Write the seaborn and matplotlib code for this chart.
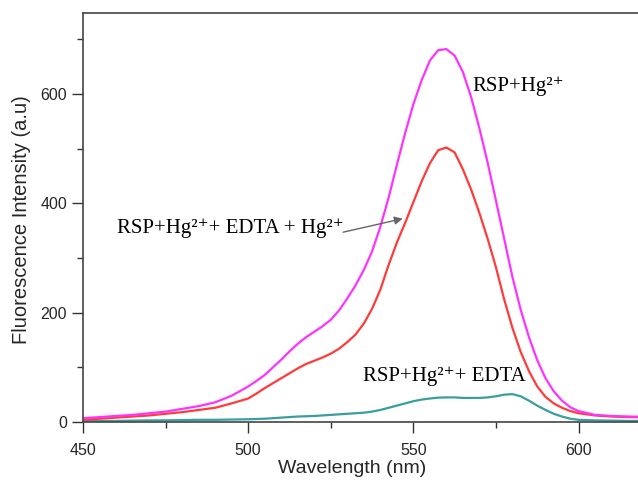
import numpy as np
import pandas as pd
import matplotlib
matplotlib.use("Agg")
import matplotlib.pyplot as plt
import seaborn as sns
from matplotlib.ticker import MultipleLocator

wavelength = [450, 455, 460, 465, 470, 475, 480, 485, 490, 495,
              500, 502.5, 505, 507.5, 510, 512.5, 515, 517.5, 520, 522.5,
              525, 527.5, 530, 532.5, 535, 537.5, 540, 542.5, 545, 547.5,
              550, 552.5, 555, 557.5, 560, 562.5, 565, 567.5, 570, 572.5,
              575, 577.5, 580, 582.5, 585, 587.5, 590, 592.5, 595, 597.5,
              600, 605, 610, 615, 620]
rsp_hg = [7, 9, 11, 13, 16, 19, 24, 29, 36, 48,
          65, 75, 86, 100, 114, 129, 143, 155, 165, 175,
          187, 204, 226, 250, 278, 312, 357, 410, 470, 528,
          581, 625, 661, 680, 682, 670, 640, 594, 537, 474,
          405, 335, 265, 205, 155, 113, 80, 56, 39, 27,
          20, 13, 11, 10, 9.5]
rsp_hg_edta_hg = [4, 6, 8, 10, 12, 15, 18, 22, 26, 34,
                  43, 52, 62, 71, 80, 89, 98, 106, 112, 118,
                  125, 134, 146, 160, 180, 207, 242, 287, 328, 364,
                  402, 440, 473, 497, 502, 493, 462, 425, 382, 335,
                  283, 224, 172, 128, 93, 65, 46, 34, 26, 20,
                  16, 12, 10, 9, 8.5]
rsp_hg_edta = [2, 2, 2, 2.5, 3, 3, 3.5, 4, 4, 4.5,
               5, 5.5, 6, 7, 8, 9, 10, 10.5, 11, 12,
               13, 14, 15, 16, 17, 19, 22, 26, 30, 34,
               38, 41, 43, 44.5, 45, 45, 44, 44, 44, 45,
               47, 50, 51, 47, 39, 30, 22, 15, 10, 6,
               4, 3, 2.5, 2, 2]

sns.set_style("ticks")
plt.rcParams['font.family'] = ['Liberation Sans', 'DejaVu Sans']

df = pd.DataFrame({"wl": wavelength, "a": rsp_hg, "b": rsp_hg_edta_hg, "c": rsp_hg_edta})

fig = plt.figure(figsize=(6.38, 4.8), dpi=100)
ax = fig.add_axes([83/638, 1-422/480, 1-83/638, (422-13)/480])

sns.lineplot(data=df, x="wl", y="c", ax=ax, color="#3a9e9e", linewidth=1.6)
sns.lineplot(data=df, x="wl", y="b", ax=ax, color="#ff3b3b", linewidth=1.6)
sns.lineplot(data=df, x="wl", y="a", ax=ax, color="#ff33ff", linewidth=1.6)

ax.set_xlim(450, 618)
ax.set_ylim(0, 748)
ax.xaxis.set_major_locator(MultipleLocator(50))
ax.xaxis.set_minor_locator(MultipleLocator(25))
ax.yaxis.set_major_locator(MultipleLocator(200))
ax.yaxis.set_minor_locator(MultipleLocator(100))
ax.tick_params(axis='both', which='major', direction='out', length=8, width=1,
               labelsize=11.5, color='#333333')
ax.tick_params(axis='both', which='minor', direction='out', length=4, width=1, color='#333333')
ax.tick_params(axis='x', pad=7)
for s in ['left', 'bottom', 'top']:
    ax.spines[s].set_color('#444444')
    ax.spines[s].set_linewidth(1.2)
ax.spines['right'].set_visible(False)

ax.set_xlabel("Wavelength (nm)", fontsize=14)
ax.set_ylabel("Fluorescence Intensity (a.u)", fontsize=14.5)
ax.xaxis.set_label_coords((352-83)/555, -0.094)
ax.yaxis.set_label_coords(-0.094, (422-220)/409)

tfont = dict(family=['Liberation Serif', 'DejaVu Serif'], fontsize=15, color='black',
             va='center', ha='left')
ax.text(568, 614, 'RSP+Hg²⁺', **tfont)
ax.text(460.3, 355, 'RSP+Hg²⁺+ EDTA + Hg²⁺', **tfont)
ax.text(534.8, 84, 'RSP+Hg²⁺+ EDTA', **tfont)
ax.annotate('', xy=(547.6, 373), xytext=(527.9, 346),
            arrowprops=dict(arrowstyle='-|>', color='#666666', lw=1, mutation_scale=12))

fig.savefig("out.png", dpi=100)
